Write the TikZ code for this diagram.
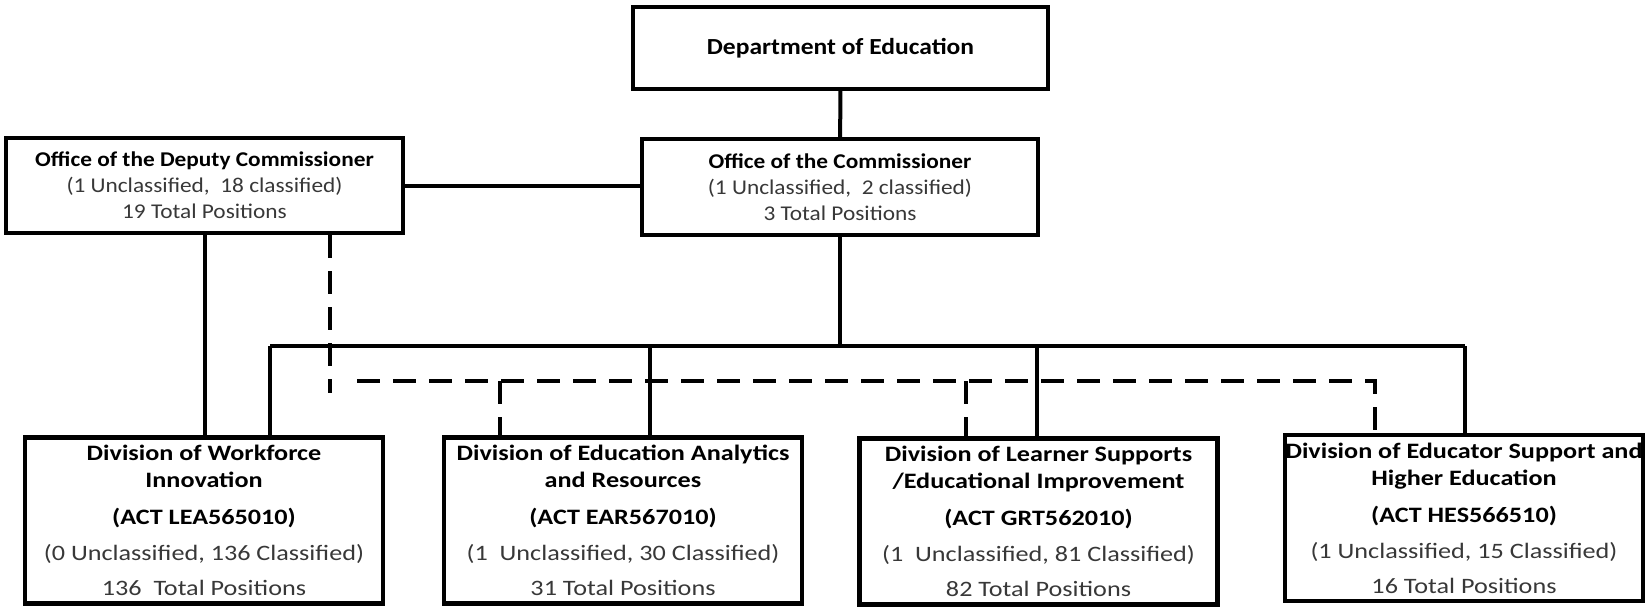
\documentclass[tikz,border=0pt]{standalone}
\usepackage{fontspec}
\setmainfont{Carlito}
\newfontfamily\officefont[FakeStretch=1.11]{Carlito}
\newfontfamily\divisionfont[FakeStretch=1.19]{Carlito}
\newcommand{\hd}[1]{\textcolor{black}{\bfseries #1}}
\begin{document}
\begin{tikzpicture}[x=0.5pt,y=-0.5pt,
            unit/.style={draw,line width=2.1pt,inner sep=0pt,align=center,text=black!78,
                font=\officefont\fontsize{10.5}{13}\selectfont},
            division/.style={unit,minimum width=179pt,minimum height=83pt,
                font=\divisionfont\fontsize{11}{13.5}\selectfont},
            solidline/.style={line width=2pt},
            dashline/.style={line width=2pt,dash pattern=on 11.5pt off 6.5pt}]
            \useasboundingbox (0,0) rectangle (1646,606);
            \node[unit,minimum width=207.5pt,minimum height=41pt,font=\officefont\fontsize{11.5}{14}\selectfont] (dept) at (840.5,48) {\hd{Department of Education}};
            \node[unit,minimum width=198pt,minimum height=48pt] (comm) at (840,187) {\hd{Office of the Commissioner}\\(1 Unclassified,\ \ 2 classified)\\3 Total Positions};
            \node[unit,minimum width=198.5pt,minimum height=47.5pt] (dep) at (204.5,185.5) {\hd{Office of the Deputy Commissioner}\\(1 Unclassified,\ \ 18 classified)\\19 Total Positions};
            \node[division] (wfi) at (204,520.5) {\hd{Division of Workforce}\\\hd{Innovation}\\[5pt]\hd{(ACT LEA565010)}\\[4.5pt](0 Unclassified, 136 Classified)\\[4pt]136\ \ Total Positions};
            \node[division] (ear) at (623,520.5) {\hd{Division of Education Analytics}\\\hd{and Resources}\\[5pt]\hd{(ACT EAR567010)}\\[4.5pt](1\ \ Unclassified, 30 Classified)\\[4pt]31 Total Positions};
            \node[division] (lse) at (1038.5,521.5) {\hd{Division of Learner Supports}\\\hd{/Educational Improvement}\\[5pt]\hd{(ACT GRT562010)}\\[4.5pt](1\ \ Unclassified, 81 Classified)\\[4pt]82 Total Positions};
            \node[division] (hes) at (1464,518) {\hd{Division of Educator Support and}\\\hd{Higher Education}\\[5pt]\hd{(ACT HES566510)}\\[4.5pt](1 Unclassified, 15 Classified)\\[4pt]16 Total Positions};
            \coordinate (bus) at (840,346);
            \coordinate (busL) at (270,346);
            \coordinate (busR) at (1465,346);
            \coordinate (earS) at (650,346);
            \coordinate (lseS) at (1037,346);
            \coordinate (dashV) at (330,393);
            \coordinate (dashL) at (357,381);
            \coordinate (dashR) at (1375,381);
            \coordinate (earD) at (500,381);
            \coordinate (lseD) at (966,381);
            \draw[solidline] (dept) -- (comm);
            \draw[solidline] (dep.east) -- (dep.east -| comm.west);
            \draw[solidline] (comm) -- (bus);
            \draw[solidline] (busL) -- (busR);
            \draw[solidline] (busL) -- (busL |- wfi.north);
            \draw[solidline] (earS) -- (earS |- ear.north);
            \draw[solidline] (lseS) -- (lseS |- lse.north);
            \draw[solidline] (busR) -- (busR |- hes.north);
            \draw[solidline] (dep.south) -- (dep.south |- wfi.north);
            \draw[dashline] (dashV |- dep.south) -- (dashV);
            \draw[dashline] (dashL) -- (dashR) -- (dashR |- hes.north);
            \draw[dashline] (earD) -- (earD |- ear.north);
            \draw[dashline] (lseD) -- (lseD |- lse.north);
\end{tikzpicture}
\end{document}
